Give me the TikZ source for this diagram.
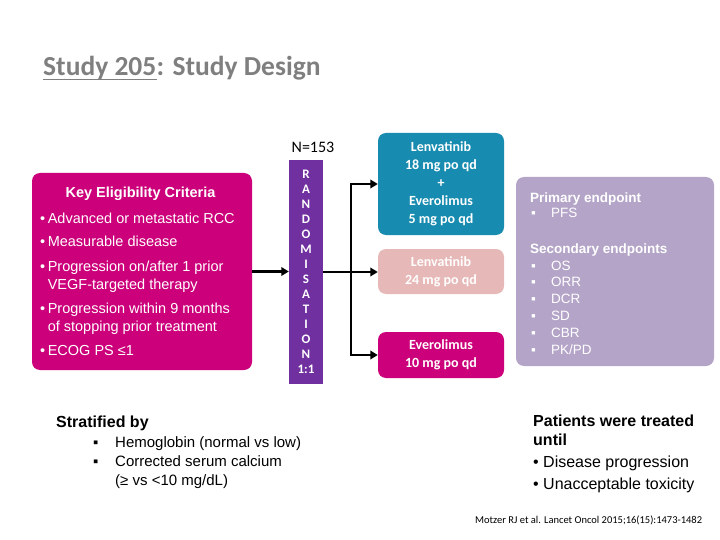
\documentclass[tikz,border=0pt]{standalone}
\usepackage{fontspec}
\setmainfont{Liberation Sans}
\newfontfamily\calfont{Carlito}
\usetikzlibrary{arrows.meta}
\definecolor{magB}{RGB}{204,0,122}
\definecolor{tealB}{RGB}{23,139,176}
\definecolor{lpinkB}{RGB}{230,184,183}
\definecolor{lavB}{RGB}{180,165,200}
\definecolor{purB}{RGB}{112,48,160}
\definecolor{titleG}{RGB}{127,127,127}
\tikzset{
  box/.style={draw=none, rounded corners=8pt, inner sep=0pt},
  armtxt/.style={text=white, align=center, font=\calfont\bfseries\fontsize{14}{18}\selectfont},
  wtxt/.style={text=white, inner sep=0pt, anchor=base west, align=left},
  btxt/.style={text=black, inner sep=0pt, anchor=base west, align=left},
  arr/.style={line width=2.4pt, -{Triangle[length=7.5pt,width=8.5pt]}, line join=miter},
}
\begin{document}
\begin{tikzpicture}[x=1pt,y=-1pt]
\useasboundingbox (0,0) rectangle (720,540);
% title
\node[inner sep=0pt, anchor=base west, text=titleG, font=\calfont\bfseries\fontsize{27.5}{31}\selectfont] (t1) at (43,76) {Study 205};
\node[inner sep=0pt, anchor=base west, text=titleG, font=\calfont\bfseries\fontsize{27.5}{31}\selectfont] (t2) at (t1.base east) {: Study Design};
\draw[titleG, line width=1.8pt] ([yshift=-3.5pt]t1.base west) -- ([yshift=-3.5pt]t1.base east);

% eligibility box
\node[box, fill=magB, minimum width=220pt, minimum height=197pt] (elig) at (142,271.5) {};
\node[inner sep=0pt, anchor=base, text=white, font=\bfseries\fontsize{14.5}{17}\selectfont] (eh) at (140.5,198) {Key Eligibility Criteria};
\begin{scope}[every node/.style={wtxt, font=\fontsize{14.5}{17.5}\selectfont}]
\node (e1) at (40,223) {•\hspace{2.5pt}Advanced or metastatic RCC};
\node (e2) at (40,247) {•\hspace{2.5pt}Measurable disease};
\node (e3) at (40,289) {•\hspace{2.5pt}Progression on/after 1 prior\\\phantom{•\hspace{2.5pt}}VEGF-targeted therapy};
\node (e4) at (40,331) {•\hspace{2.5pt}Progression within 9 months\\\phantom{•\hspace{2.5pt}}of stopping prior treatment};
\node (e5) at (40,355) {•\hspace{2.5pt}ECOG PS ≤1};
\end{scope}

% randomisation
\node[inner sep=0pt, anchor=base, font=\calfont\fontsize{16}{18}\selectfont] (n) at (313,153) {N=153};
\node[fill=purB, minimum width=34pt, minimum height=224pt, inner sep=0pt, text=white, align=center,
  font=\calfont\bfseries\fontsize{13}{15}\selectfont] (rand) at (306,272)
  {R\\A\\N\\D\\O\\M\\I\\S\\A\\T\\I\\O\\N\\1:1};

% arms
\node[box, fill=tealB, minimum width=126pt, minimum height=102pt, armtxt] (teal) at (441,184)
  {Lenvatinib\\18 mg po qd\\+\\Everolimus\\5 mg po qd};
\node[box, fill=lpinkB, minimum width=126pt, minimum height=45pt, armtxt] (lp) at (441,271.5)
  {Lenvatinib\\24 mg po qd};
\node[box, fill=magB, minimum width=126pt, minimum height=46pt, armtxt] (mag) at (441,355)
  {Everolimus\\10 mg po qd};

% connectors
\draw[arr] (elig.east) -- (elig.east -| rand.west);
\coordinate (br) at (351,272);
\draw[arr] (rand.east) -- (rand.east -| lp.west);
\draw[arr] (br) |- (teal.west);
\draw[arr] (br) |- (mag.west);

% endpoints
\node[box, fill=lavB, minimum width=198pt, minimum height=189pt] (ep) at (615,271.5) {};
\node[wtxt, font=\fontsize{13.5}{15.5}\selectfont] (p1) at (530,218)
  {\textbf{Primary endpoint}\\\makebox[21pt][l]{\hspace{1pt}▪}PFS};
\node[wtxt, font=\fontsize{13.5}{16.8}\selectfont] (p2) at (530,354)
  {\textbf{Secondary endpoints}\\\makebox[21pt][l]{\hspace{1pt}▪}OS\\\makebox[21pt][l]{\hspace{1pt}▪}ORR\\\makebox[21pt][l]{\hspace{1pt}▪}DCR\\\makebox[21pt][l]{\hspace{1pt}▪}SD\\\makebox[21pt][l]{\hspace{1pt}▪}CBR\\\makebox[21pt][l]{\hspace{1pt}▪}PK/PD};

% stratified
\node[btxt, font=\bfseries\fontsize{16}{18}\selectfont] (s0) at (56,427) {Stratified by};
\node[btxt, font=\fontsize{15}{19}\selectfont] (s1) at (93,485)
  {\makebox[22pt][l]{▪}Hemoglobin (normal vs low)\\\makebox[22pt][l]{▪}Corrected serum calcium\\\makebox[22pt][l]{}(≥ vs <10 mg/dL)};

% treated until
\node[btxt, font=\bfseries\fontsize{16}{18.5}\selectfont] (u0) at (533,445) {Patients were treated\\until};
\node[btxt, font=\fontsize{16}{22}\selectfont] (u1) at (533,489) {• Disease progression\\• Unacceptable toxicity};

% citation
\node[btxt, font=\calfont\fontsize{10.5}{12}\selectfont] (cit) at (475,523) {Motzer RJ et al. Lancet Oncol 2015;16(15):1473-1482};
\end{tikzpicture}
\end{document}
